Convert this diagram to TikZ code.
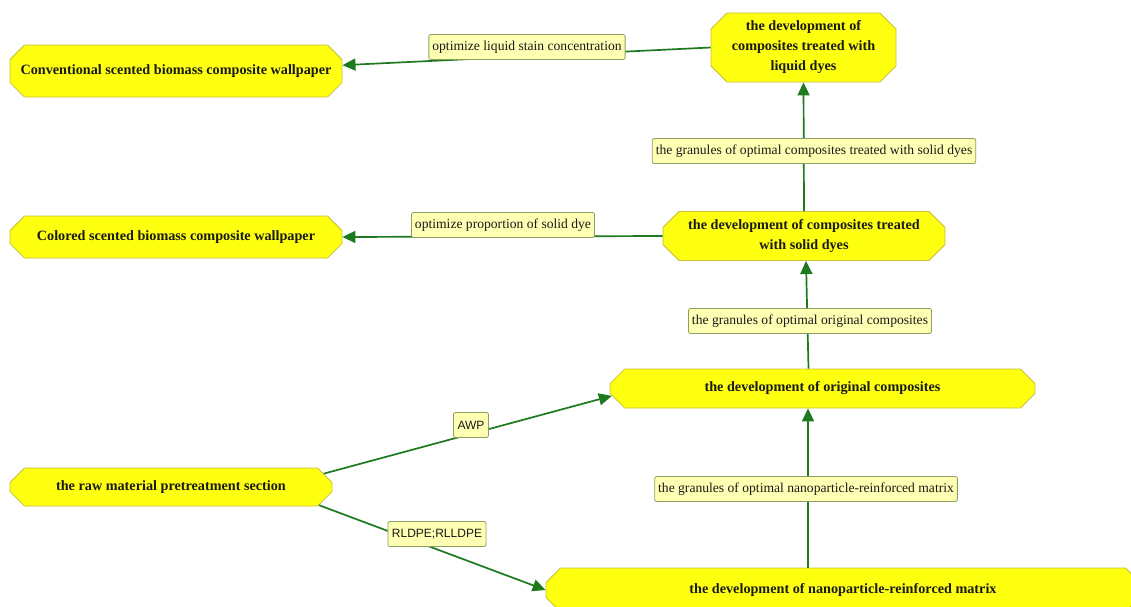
\documentclass[tikz,border=0pt]{standalone}
\usepackage{fontspec}
\setmainfont{Liberation Serif}
\newfontfamily\labsans{Liberation Sans}
\usetikzlibrary{shapes.misc,arrows.meta,calc}
\definecolor{nodefill}{HTML}{FFFF10}
\definecolor{nodeborder}{HTML}{C8C040}
\definecolor{labfill}{HTML}{FFFFB4}
\definecolor{labborder}{HTML}{8EA060}
\definecolor{edgecol}{HTML}{1E7A1E}
\definecolor{textdark}{HTML}{1A1A1A}
\begin{document}
\begin{tikzpicture}[x=1pt,y=-1pt,
  mainbox/.style={chamfered rectangle, chamfered rectangle xsep=8pt, chamfered rectangle ysep=8pt,
    draw=nodeborder, fill=nodefill, line width=0.8pt, inner sep=0pt, align=center,
    font=\fontsize{14.2}{20}\selectfont\bfseries, text=textdark},
  labbox/.style={draw=labborder, fill=labfill, rounded corners=2pt, line width=0.8pt,
    inner xsep=3.5pt, inner ysep=0pt, minimum height=25pt, font=\fontsize{13.6}{15}\selectfont, text=textdark},
  sanslab/.style={labbox, inner xsep=4pt, font=\labsans\fontsize{12}{14}\selectfont},
  edge/.style={draw=edgecol, line width=1.7pt, -{Triangle[length=13pt,width=12pt]}}
]
\useasboundingbox (0,0) rectangle (1131,606);
\clip (0,0) rectangle (1131,606);
\fill[white] (0,0) rectangle (1131,606);

\node[mainbox, minimum width=332pt, minimum height=52pt] (conv) at (176,71) {Conventional scented biomass composite wallpaper};
\node[mainbox, minimum width=185pt, minimum height=67pt] (liquid) at (803.5,47.5) {the development of\\composites treated with\\liquid dyes};
\node[mainbox, minimum width=332pt, minimum height=42pt] (colored) at (176,237) {Colored scented biomass composite wallpaper};
\node[mainbox, minimum width=282pt, minimum height=46pt] (solid) at (804,236) {the development of composites treated\\with solid dyes};
\node[mainbox, minimum width=425pt, minimum height=39pt] (original) at (822.5,388.5) {the development of original composites};
\node[mainbox, minimum width=322pt, minimum height=38pt] (raw) at (171,487) {the raw material pretreatment section};
\node[mainbox, minimum width=594pt, minimum height=44pt] (nano) at (843,590) {the development of nanoparticle-reinforced matrix};

\draw[edge] (liquid.west) -- (conv.2);
\draw[edge] (solid.north) -- (liquid.south);
\draw[edge] (solid.west) -- (colored.east);
\draw[edge] ($(original.north)+(-14,0)$) -- ($(solid.south)+(2,0)$);
\draw[edge] (raw.5) -- (original.182);
\draw[edge] (raw.-7) -- (nano.west);
\draw[edge] ($(nano.north)+(-35,0)$) -- ($(original.south)+(-14.5,0)$);

\node[labbox] (l1) at (527,47) {optimize liquid stain concentration};
\node[labbox] (l2) at (814,151) {the granules of optimal composites treated with solid dyes};
\node[labbox] (l3) at (503,225) {optimize proportion of solid dye};
\node[labbox] (l4) at (810,321) {the granules of optimal original composites};
\node[sanslab] (l5) at (471,425) {AWP};
\node[labbox] (l6) at (806,489) {the granules of optimal nanoparticle-reinforced matrix};
\node[sanslab] (l7) at (437,534) {RLDPE;RLLDPE};
\end{tikzpicture}
\end{document}
